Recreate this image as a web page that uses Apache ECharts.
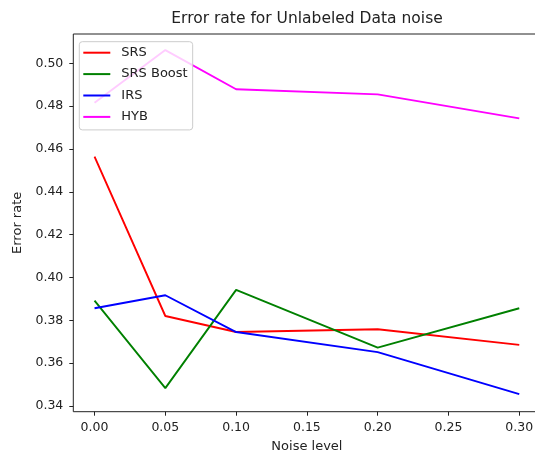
<!DOCTYPE html>
<html>
<head>
<meta charset="utf-8">
<script src="https://cdn.jsdelivr.net/npm/echarts@6/dist/echarts.min.js"></script>
<style>
  html, body { margin: 0; padding: 0; background: #fff; }
  #chart { width: 535px; height: 456px; }
</style>
</head>
<body>
<div id="chart"></div>
<script>
// Data
var noiseLevels = [0.00, 0.05, 0.10, 0.20, 0.30];
var srs      = [0.4564, 0.3820, 0.3745, 0.3758, 0.3685];
var srsBoost = [0.3892, 0.3483, 0.3942, 0.3672, 0.3856];
var irs      = [0.3856, 0.3917, 0.3745, 0.3651, 0.3455];
var hyb      = [0.4816, 0.5062, 0.4879, 0.4855, 0.4743];

var seriesNames  = ['SRS', 'SRS Boost', 'IRS', 'HYB'];
var seriesValues = [srs, srsBoost, irs, hyb];
var seriesColors = ['#ff0000', '#008000', '#0000ff', '#ff00ff'];

var titleText = 'Error rate for Unlabeled Data noise';
var xName = 'Noise level';
var yName = 'Error rate';

function pairs(xs, ys) {
  return xs.map(function (x, i) { return [x, ys[i]]; });
}

var font = 'DejaVu Sans';
var textColor = '#222';

var chart = echarts.init(document.getElementById('chart'), null, { renderer: 'canvas' });

var option = {
  animation: false,
  backgroundColor: '#ffffff',
  textStyle: { fontFamily: font },
  title: {
    text: titleText,
    left: 307,
    top: 11,
    padding: 0,
    textAlign: 'center',
    textStyle: { fontFamily: font, fontSize: 15.5, fontWeight: 'normal', color: textColor }
  },
  grid: {
    left: 73.3,
    top: 34,
    right: -5.5,
    bottom: 44.3,
    containLabel: false,
    outerBoundsMode: 'none',
    show: true,
    borderColor: '#222',
    borderWidth: 1,
    backgroundColor: 'transparent'
  },
  legend: {
    orient: 'vertical',
    left: 79.3,
    top: 41.7,
    padding: [3, 5, 5, 4],
    itemGap: 5.4,
    itemWidth: 27,
    itemHeight: 2,
    icon: 'rect',
    backgroundColor: 'rgba(255,255,255,0.8)',
    borderColor: '#cccccc',
    borderWidth: 1,
    borderRadius: 3,
    data: seriesNames,
    textStyle: { fontFamily: font, fontSize: 13, color: textColor, lineHeight: 16, padding: [0, 0, 0, 6] }
  },
  xAxis: {
    type: 'value',
    min: -0.015,
    max: 0.315,
    minInterval: 0.05,
    maxInterval: 0.05,
    name: xName,
    nameLocation: 'middle',
    nameGap: 28.5,
    nameTextStyle: { fontFamily: font, fontSize: 13, color: textColor },
    axisLine: { show: false, onZero: false },
    axisTick: { show: true, length: 4, lineStyle: { color: '#222', width: 1 } },
    splitLine: { show: false },
    axisLabel: {
      showMinLabel: false,
      showMaxLabel: false,
      margin: 10,
      fontFamily: font,
      fontSize: 12.5,
      color: textColor,
      formatter: function (v) { return v.toFixed(2); }
    }
  },
  yAxis: {
    type: 'value',
    min: 0.3373,
    max: 0.5137,
    minInterval: 0.02,
    maxInterval: 0.02,
    name: yName,
    nameLocation: 'middle',
    nameGap: 46,
    nameTextStyle: { fontFamily: font, fontSize: 13, color: textColor },
    axisLine: { show: false, onZero: false },
    axisTick: { show: true, length: 4, lineStyle: { color: '#222', width: 1 } },
    splitLine: { show: false },
    axisLabel: {
      showMinLabel: false,
      showMaxLabel: false,
      margin: 10,
      fontFamily: font,
      fontSize: 12.5,
      color: textColor,
      formatter: function (v) { return v.toFixed(2); }
    }
  },
  series: seriesNames.map(function (name, i) {
    return {
      name: name,
      type: 'line',
      data: pairs(noiseLevels, seriesValues[i]),
      symbol: 'none',
      color: seriesColors[i],
      lineStyle: { color: seriesColors[i], width: 1.9 },
      z: 2
    };
  })
};

chart.setOption(option);
</script>
</body>
</html>
